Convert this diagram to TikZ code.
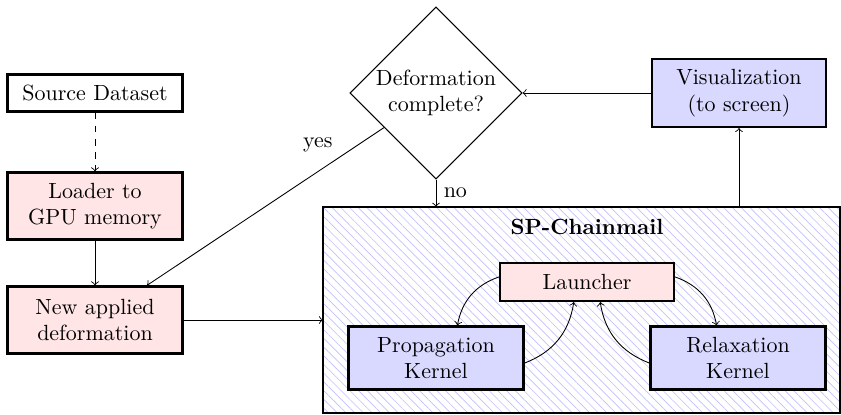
\documentclass[tikz,border=0pt]{standalone}
\usetikzlibrary{shapes.geometric,patterns.meta}
\begin{document}
\begin{tikzpicture}[x=0.455pt,y=-0.455pt,
  box/.style={draw,line width=1pt,align=center,inner sep=2pt},
  pinkbox/.style={box,fill=red!10},
  bluebox/.style={box,fill=blue!15},
  conn/.style={->,line width=0.4pt},
  dec/.style={draw,diamond,aspect=1,minimum size=78.3pt,inner sep=0pt,align=center,line width=0.5pt}]
\useasboundingbox (0,0) rectangle (841,415);
% big container
\node[draw,line width=1pt,pattern={Lines[angle=-45,distance=2.8pt,line width=0.3pt]},pattern color=blue!25,minimum width=235pt,minimum height=93.7pt,inner sep=0pt] (chain) at (581.5,310) {};
\node[font=\bfseries] (title) at (587,227) {SP-Chainmail};
\node[box,minimum width=79.6pt,minimum height=16.8pt,fill=white] (src) at (95,93) {Source Dataset};
\node[pinkbox,minimum width=79.6pt,minimum height=30.5pt] (load) at (95,206) {Loader to\\GPU memory};
\node[pinkbox,minimum width=79.6pt,minimum height=30.5pt] (new) at (95,320) {New applied\\deformation};
\node[dec] (dia) at (436,93) {Deformation\\complete?};
\node[bluebox,minimum width=79.2pt,minimum height=30.9pt] (vis) at (739,93) {Visualization\\(to screen)};
\node[pinkbox,minimum width=79.2pt,minimum height=17.3pt] (launch) at (587,282) {Launcher};
\node[bluebox,minimum width=79.6pt,minimum height=28.7pt] (prop) at (436,358) {Propagation\\Kernel};
\node[bluebox,minimum width=79.6pt,minimum height=28.7pt] (relax) at (738,358) {Relaxation\\Kernel};
% connectors
\draw[conn,dashed] (src) -- (load);
\draw[conn] (load) -- (new);
\draw[conn] (dia) -- node[pos=0.11,left=8pt]{yes} (new);
\draw[conn] (dia) -- node[right]{no} (dia.south |- chain.north);
\draw[conn] (vis) -- (dia);
\draw[conn] (vis.south |- chain.north) -- (vis);
\draw[conn] (new.east) -- (new.east -| chain.west);
\draw[conn] (launch) to[bend right] (prop);
\draw[conn] (prop) to[bend right] (launch);
\draw[conn] (relax) to[bend left] (launch);
\draw[conn] (launch) to[bend left] (relax);
\end{tikzpicture}
\end{document}
